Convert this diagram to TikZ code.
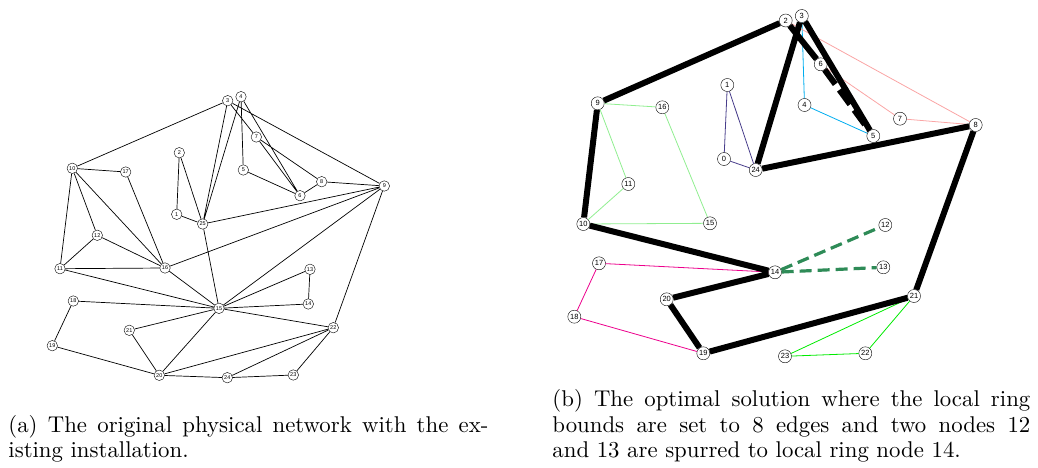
\documentclass[tikz,border=0pt]{standalone}
\usepackage{fontspec}
\newfontfamily\labelfont{Liberation Sans}
\usepackage{tikz}

\definecolor{lightgreenline}{RGB}{144,238,144}
\definecolor{slateblueline}{RGB}{72,61,139}
\definecolor{pinkline}{RGB}{250,165,165}
\definecolor{spurgreen}{RGB}{46,139,87}
\definecolor{limeline}{RGB}{0,235,0}

\tikzset{
  anode/.style={circle,draw,fill=white,inner sep=0pt,minimum size=10.5pt,
    font=\labelfont\fontsize{5.5}{6}\selectfont},
  bnode/.style={circle,draw,fill=white,inner sep=0pt,minimum size=13pt,
    font=\labelfont\fontsize{7.5}{8}\selectfont},
  aedge/.style={line width=0.7pt},
  ringedge/.style={line width=6pt},
  subedge/.style={line width=0.8pt},
  spuredge/.style={spurgreen,line width=3.2pt,dash pattern=on 12pt off 6pt},
  captext/.style={anchor=base west,inner sep=0pt,scale=2.28,transform shape,
    font=\fontsize{10}{12}\selectfont\addfontfeature{FakeStretch=1.06}}
}

\begin{document}
\begin{tikzpicture}[x=1pt,y=-1pt]
  \useasboundingbox (0,0) rectangle (1038,468);

  % (a) physical network
  \node[anode] (a1) at (176.7,214.3) {1}; \node[anode] (a2) at (179.3,152.7) {2};
  \node[anode] (a3) at (227.7,100.7) {3}; \node[anode] (a4) at (241,96.7) {4};
  \node[anode] (a5) at (243.3,170) {5}; \node[anode] (a6) at (300,195.7) {6};
  \node[anode] (a7) at (256.3,137) {7}; \node[anode] (a8) at (321.7,181.7) {8};
  \node[anode] (a9) at (384.3,186) {9}; \node[anode] (a10) at (72.3,168.3) {10};
  \node[anode] (a11) at (60,268.7) {11}; \node[anode] (a12) at (97.3,235.3) {12};
  \node[anode] (a13) at (310,269.3) {13}; \node[anode] (a14) at (308.3,304) {14};
  \node[anode] (a15) at (219,308.3) {15}; \node[anode] (a16) at (165,268) {16};
  \node[anode] (a17) at (125.7,172) {17}; \node[anode] (a18) at (73.3,301) {18};
  \node[anode] (a19) at (52.3,345.7) {19}; \node[anode] (a20) at (159.3,375.3) {20};
  \node[anode] (a21) at (129.3,330.3) {21}; \node[anode] (a22) at (333.3,327.7) {22};
  \node[anode] (a23) at (293.3,375) {23}; \node[anode] (a24) at (227.3,377.7) {24};
  \node[anode] (a25) at (202.7,224) {25};
  \draw[aedge] (a10) -- (a3) (a10) -- (a17) (a10) -- (a12) (a10) -- (a16)
    (a10) -- (a11) (a17) -- (a16) (a12) -- (a11) (a12) -- (a16) (a11) -- (a16)
    (a11) -- (a15) (a2) -- (a1) (a2) -- (a25) (a1) -- (a25) (a3) -- (a25)
    (a4) -- (a25) (a3) -- (a7) (a3) -- (a9) (a4) -- (a5) (a4) -- (a6)
    (a7) -- (a6) (a7) -- (a8) (a5) -- (a6) (a6) -- (a8) (a8) -- (a9)
    (a25) -- (a9) (a16) -- (a9) (a15) -- (a9) (a22) -- (a9) (a25) -- (a15)
    (a16) -- (a15) (a15) -- (a13) (a15) -- (a14) (a13) -- (a14) (a15) -- (a18)
    (a15) -- (a22) (a15) -- (a21) (a15) -- (a20) (a21) -- (a20) (a18) -- (a19)
    (a19) -- (a20) (a20) -- (a22) (a24) -- (a22) (a23) -- (a22) (a20) -- (a24)
    (a24) -- (a23);

  % (b) optimal solution
  \node[bnode] (b0) at (724,159) {0}; \node[bnode] (b1) at (727.3,85) {1};
  \node[bnode] (b2) at (785.7,20.5) {2}; \node[bnode] (b3) at (801.8,16) {3};
  \node[bnode] (b4) at (804.5,105) {4}; \node[bnode] (b5) at (873.3,136) {5};
  \node[bnode] (b6) at (820.7,64.3) {6}; \node[bnode] (b7) at (900,118.7) {7};
  \node[bnode] (b8) at (975.7,125) {8}; \node[bnode] (b9) at (597.7,103.3) {9};
  \node[bnode] (b10) at (583.3,224) {10}; \node[bnode] (b11) at (628.3,184) {11};
  \node[bnode] (b12) at (885.3,225) {12}; \node[bnode] (b13) at (883.3,267.3) {13};
  \node[bnode] (b14) at (775,272.3) {14}; \node[bnode] (b15) at (710,223.3) {15};
  \node[bnode] (b16) at (662.3,107.3) {16}; \node[bnode] (b17) at (599,263.3) {17};
  \node[bnode] (b18) at (574.3,316.7) {18}; \node[bnode] (b19) at (703.3,353.3) {19};
  \node[bnode] (b20) at (666.7,299.3) {20}; \node[bnode] (b21) at (914,296) {21};
  \node[bnode] (b22) at (865.3,353.3) {22}; \node[bnode] (b23) at (785,356.3) {23};
  \node[bnode] (b24) at (755.7,170) {24};
  \draw[subedge,lightgreenline] (b9) -- (b16) (b9) -- (b11) (b11) -- (b10)
    (b10) -- (b15) (b16) -- (b15);
  \draw[subedge,slateblueline] (b1) -- (b0) (b1) -- (b24) (b0) -- (b24);
  \draw[subedge,cyan] (b3) -- (b4) (b4) -- (b5);
  \draw[subedge,pinkline] (b2) -- (b8) (b6) -- (b7) (b7) -- (b8);
  \draw[subedge,magenta] (b17) -- (b14) (b17) -- (b18) (b18) -- (b19);
  \draw[subedge,limeline] (b21) -- (b23) (b21) -- (b22) (b23) -- (b22);
  \draw[spuredge] (b14) -- (b12) (b14) -- (b13);
  \draw[ringedge,dash pattern=on 18pt off 7pt] (b6) -- (b5);
  \draw[ringedge] (b9) -- (b2) (b2) -- (b6) (b3) -- (b5) (b3) -- (b24)
    (b24) -- (b8) (b8) -- (b21) (b21) -- (b19) (b19) -- (b20) (b20) -- (b14)
    (b14) -- (b10) (b10) -- (b9);

  % captions
  \node[captext] (capa1) at (8,432) {\makebox[210.5pt][s]{(a) The original physical network with the ex-}};
  \node[captext] (capa2) at (8,457) {isting installation.};
  \node[captext] (capb1) at (552,406) {\makebox[209.6pt][s]{(b) The optimal solution where the local ring}};
  \node[captext] (capb2) at (552,432) {\makebox[209.6pt][s]{bounds are set to 8 edges and two nodes 12}};
  \node[captext] (capb3) at (552,457) {and 13 are spurred to local ring node 14.};
\end{tikzpicture}
\end{document}
